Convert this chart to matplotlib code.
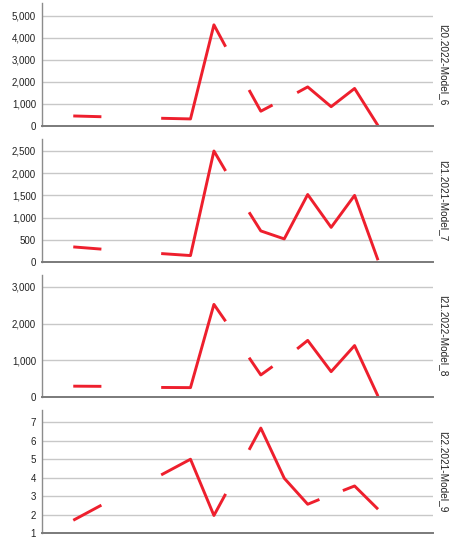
import numpy as np
import matplotlib
matplotlib.use("Agg")
import matplotlib.pyplot as plt
from matplotlib.ticker import FuncFormatter

plt.rcParams['font.family'] = ['Liberation Sans', 'DejaVu Sans']

nan = np.nan

# x positions of the observations (periods); nan breaks the line
x6 = [0, 2.4, nan, 7.5, 10, 12, 13, nan, 15, 16, 17, nan, 19.1, 20, 22, 24, 26]
y6 = [455, 420, nan, 350, 320, 4580, 3590, nan, 1630, 670, 950, nan, 1510, 1770, 875, 1700, 15]

x7 = [0, 2.4, nan, 7.5, 10, 12, 13, nan, 15, 16, 18, 20, 22, 24, 26]
y7 = [340, 290, nan, 190, 145, 2500, 2050, nan, 1120, 700, 520, 1520, 780, 1500, 40]

x8 = [0, 2.4, nan, 7.5, 10, 12, 13, nan, 15, 16, 17, nan, 19.1, 20, 22, 24, 26]
y8 = [295, 290, nan, 260, 255, 2520, 2060, nan, 1070, 600, 830, nan, 1310, 1540, 690, 1400, 20]

x9 = [0, 2.4, nan, 7.5, 10, 12, 13, nan, 15, 16, 18, 20, 21, nan, 23, 24, 26]
y9 = [1.69, 2.51, nan, 4.15, 5.0, 1.95, 3.12, nan, 5.51, 6.69, 3.97, 2.56, 2.82, nan, 3.30, 3.55, 2.29]

labels = ['I20.2022-Model_6', 'I21.2021-Model_7', 'I21.2022-Model_8', 'I22.2021-Model_9']
ticks = [[0, 1000, 2000, 3000, 4000, 5000],
         [0, 500, 1000, 1500, 2000, 2500],
         [0, 1000, 2000, 3000],
         [1, 2, 3, 4, 5, 6, 7]]
ylims = [(0, 5570), (0, 2770), (0, 3320), (1, 7.67)]

series = [(x6, y6), (x7, y7), (x8, y8), (x9, y9)]

fig = plt.figure(figsize=(4.64, 5.48), dpi=100)

# panel boxes in pixels: top, bottom
W, H = 464, 548
left, right = 41.5, 433
boxes = [(3, 126), (139, 262), (275, 397), (410, 533)]

for i, (xs, ys) in enumerate(series):
    top, bot = boxes[i]
    ax = fig.add_axes([left / W, 1 - bot / H, (right - left) / W, (bot - top) / H])
    ax.plot(xs, ys, color='#ee1f2d', linewidth=2.1, solid_capstyle='butt')
    ax.set_xlim(-2.71, 30.69)
    ax.set_ylim(*ylims[i])
    ax.set_yticks(ticks[i])
    if i < 3:
        ax.yaxis.set_major_formatter(FuncFormatter(lambda v, p: f'{int(v):,}'))
    ax.set_xticks([])
    ax.grid(axis='y', color='#c8c8c8', linewidth=1.0)
    ax.set_axisbelow(True)
    for s in ['top', 'right']:
        ax.spines[s].set_visible(False)
    ax.spines['left'].set_color('#8c8c8c')
    ax.spines['left'].set_linewidth(1.0)
    ax.spines['bottom'].set_color('#7a7a7a')
    ax.spines['bottom'].set_linewidth(1.4)
    ax.tick_params(axis='y', length=0, pad=4, labelsize=7, labelcolor='#222222')
    ax.text(1.0255, 0.5, labels[i], transform=ax.transAxes, rotation=270,
            ha='center', va='center', fontsize=7.3, color='#222222')

fig.savefig('out.png', dpi=100)
